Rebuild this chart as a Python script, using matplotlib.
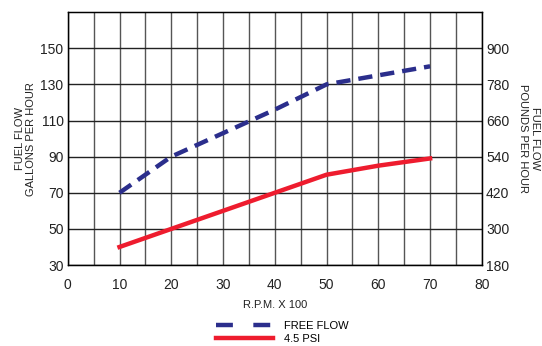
import numpy as np
import matplotlib.pyplot as plt
from matplotlib.lines import Line2D

plt.rcParams['font.family'] = ['Liberation Sans', 'DejaVu Sans']

# data
rpm = [10, 20, 30, 40, 50, 60, 70]
free_flow = [70, 90, 103, 116, 130, 135, 140]
psi_45 = [40, 50, 60, 70, 80, 85, 89]

gph_ticks = [30, 50, 70, 90, 110, 130, 150]
pph_ticks = [180, 300, 420, 540, 660, 780, 900]
x_ticks = [0, 10, 20, 30, 40, 50, 60, 70, 80]

blue = '#2B2E8C'
red = '#EE1C2E'

fig = plt.figure(figsize=(5.42, 3.46), dpi=100)
ax = fig.add_axes([0.125, 0.234, 0.764, 0.731])

ax.set_xlim(0, 80)
ax.set_ylim(30, 170)

# grid
for xv in np.arange(0, 81, 5):
    ax.axvline(xv, color='#555555', lw=1.0, zorder=1)
for yv in gph_ticks:
    ax.axhline(yv, color='#222222', lw=1.0, zorder=1)

ax.plot(rpm, free_flow, color=blue, lw=3.2, dashes=(3.2, 1.8), zorder=3)
ax.plot(rpm, psi_45, color=red, lw=3.2, zorder=3)

ax.set_xticks(x_ticks)
ax.set_yticks(gph_ticks)
ax.tick_params(length=0, labelsize=10, colors='#222222')
ax.tick_params(axis='x', pad=9)
ax.tick_params(axis='y', pad=3)
for s in ax.spines.values():
    s.set_color('black')
    s.set_linewidth(1.0)

ax.set_xlabel('R.P.M. X 100', fontsize=8, labelpad=6, color='#222222')
ax.set_ylabel('FUEL FLOW\nGALLONS PER HOUR', fontsize=8, labelpad=3, color='#222222')

ax2 = ax.twinx()
ax2.set_ylim(30 * 6, 170 * 6)
ax2.set_yticks(pph_ticks)
ax2.tick_params(length=0, labelsize=10, pad=3, colors='#222222')
ax2.set_ylabel('FUEL FLOW\nPOUNDS PER HOUR', fontsize=8, rotation=270,
               labelpad=22, color='#222222')

handles = [Line2D([], [], color=blue, lw=3.2, dashes=(3.8, 4.6)),
           Line2D([], [], color=red, lw=3.2)]
fig.legend(handles, ['FREE FLOW', '4.5 PSI'], loc='lower left',
           bbox_to_anchor=(0.38, -0.022), frameon=False, fontsize=8,
           handlelength=5.1, handletextpad=1.0, labelspacing=0.25)

fig.savefig('out.png', dpi=100)
